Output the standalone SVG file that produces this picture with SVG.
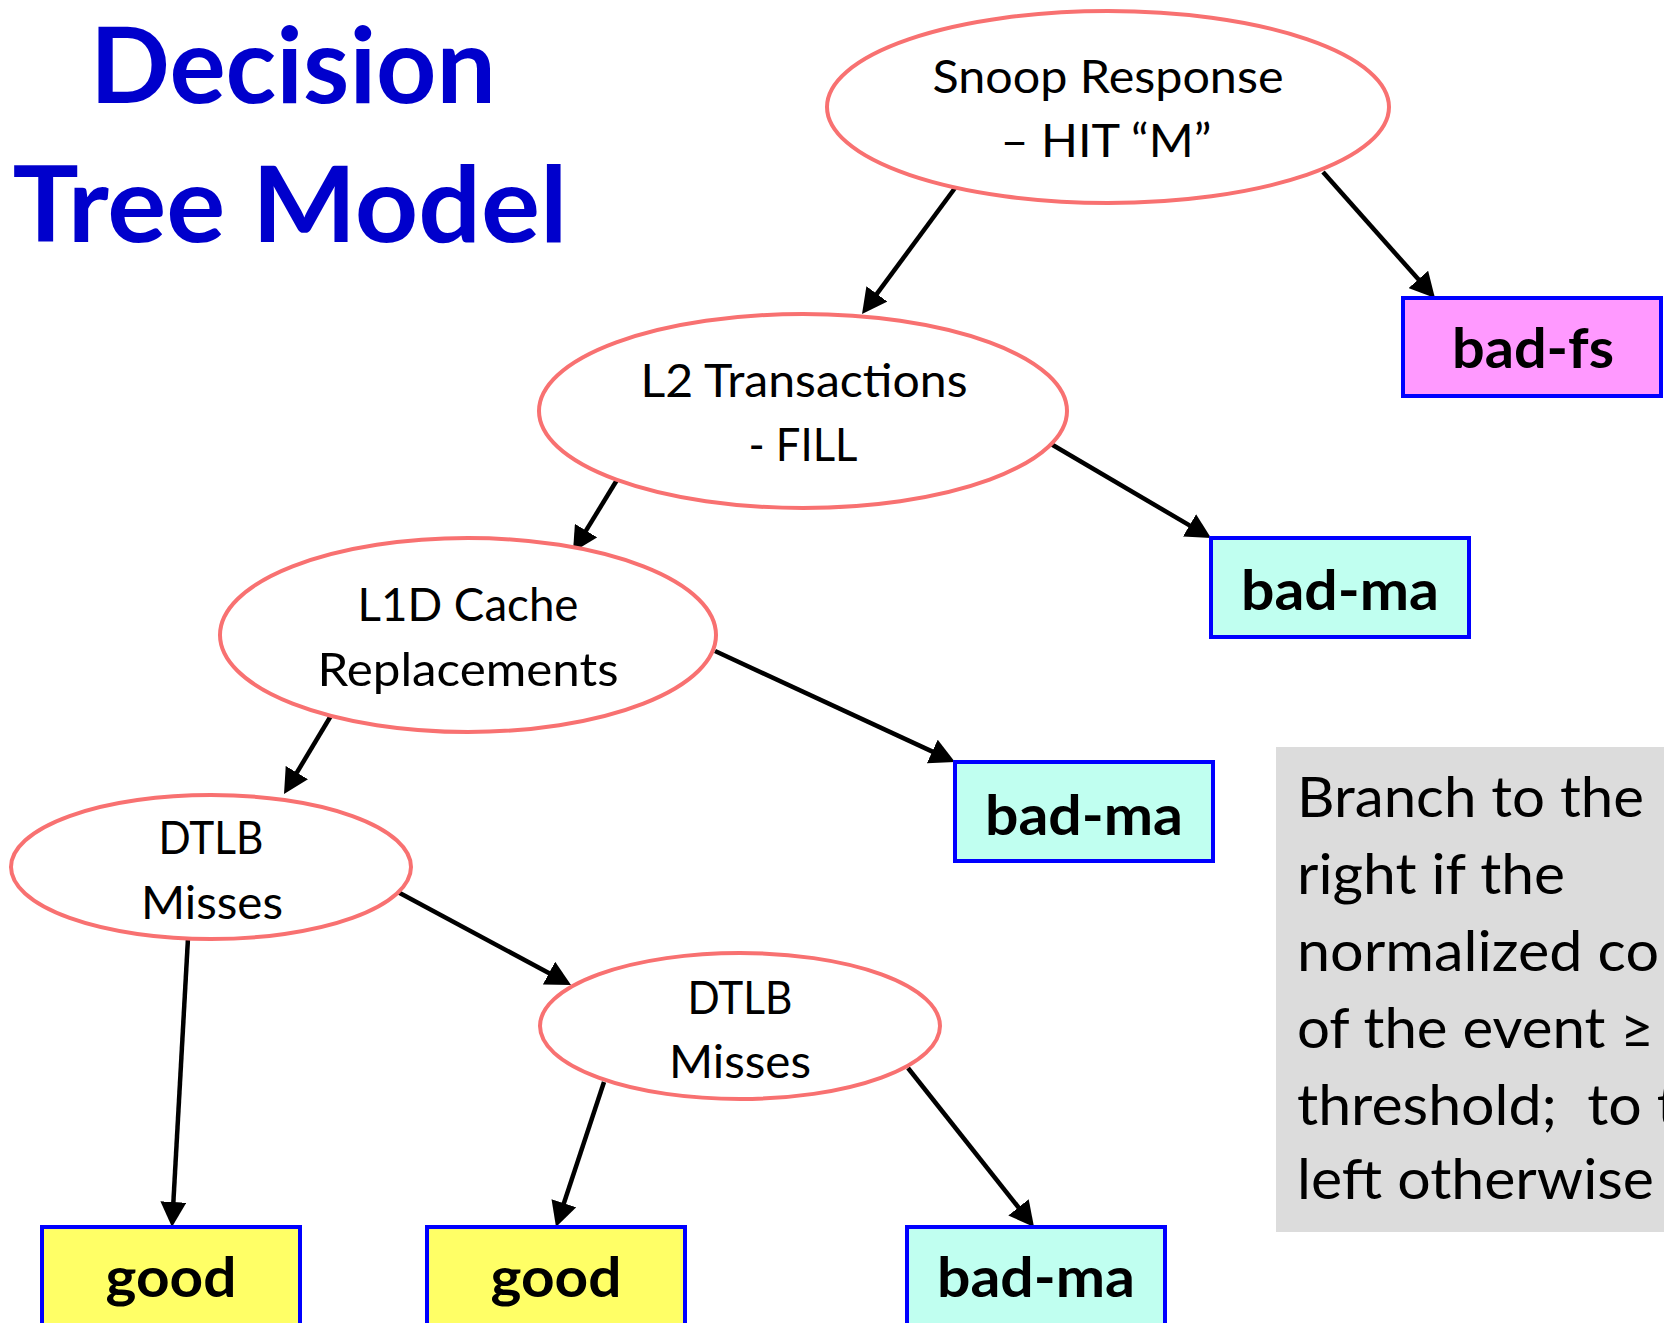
<svg xmlns="http://www.w3.org/2000/svg" width="1664" height="1323" viewBox="0 0 1664 1323">
  <style>
    .title { font-family: Lato, "Liberation Sans", sans-serif; font-weight: bold; font-size: 105px; fill: #0000CC; text-anchor: middle; }
    .cond ellipse { fill: #FFFFFF; stroke: #F87171; stroke-width: 4; }
    .cond text { font-family: Lato, "Liberation Sans", sans-serif; font-size: 47px; fill: #000000; text-anchor: middle; }
    .leaf rect { stroke: #0000FF; stroke-width: 4; }
    .leaf text { font-family: Lato, "Liberation Sans", sans-serif; font-weight: bold; font-size: 56px; fill: #000000; text-anchor: middle; }
    .fs rect { fill: #FF99FF; }
    .ma rect { fill: #C0FFF0; }
    .ok rect { fill: #FFFF66; }
    .note text { font-family: Lato, "Liberation Sans", sans-serif; font-size: 56px; fill: #000000; white-space: pre; }
    #edges line { stroke: #000000; stroke-width: 4.5; marker-end: url(#arrow); }
  </style>
  <defs>
    <marker id="arrow" markerUnits="userSpaceOnUse" markerWidth="26" markerHeight="26" refX="5" refY="13" orient="auto">
      <path d="M0,0 L25,13 L0,26 Z" fill="#000000"/>
    </marker>
  </defs>

  <rect x="0" y="0" width="1664" height="1323" fill="#FFFFFF"/>

  <!-- heading -->
  <g id="title">
    <text class="title" x="293" y="103" textLength="406" lengthAdjust="spacingAndGlyphs">Decision</text>
    <text class="title" x="290" y="242" textLength="555" lengthAdjust="spacingAndGlyphs">Tree Model</text>
  </g>

  <!-- legend box -->
  <g id="note" class="note">
    <rect x="1276" y="747" width="400" height="485" fill="#DCDCDC"/>
    <text x="1297" y="817" textLength="347" lengthAdjust="spacingAndGlyphs">Branch to the</text>
    <text x="1297" y="894" textLength="268" lengthAdjust="spacingAndGlyphs">right if the</text>
    <text x="1297" y="971" textLength="362" lengthAdjust="spacingAndGlyphs">normalized co</text>
    <text x="1297" y="1048" textLength="357" lengthAdjust="spacingAndGlyphs">of the event ≥</text>
    <text x="1297" y="1125" textLength="381" lengthAdjust="spacingAndGlyphs" xml:space="preserve">threshold;  to t</text>
    <text x="1297" y="1199" textLength="357" lengthAdjust="spacingAndGlyphs">left otherwise</text>
  </g>

  <!-- connectors -->
  <g id="edges">
    <line x1="955" y1="188" x2="873.9" y2="297.9"/>
    <line x1="1323" y1="172" x2="1421.7" y2="283.1"/>
    <line x1="620" y1="475" x2="583.4" y2="534.9"/>
    <line x1="1051" y1="444" x2="1193.8" y2="527.9"/>
    <line x1="332" y1="714" x2="294.3" y2="776.9"/>
    <line x1="715" y1="651" x2="936.8" y2="753.6"/>
    <line x1="188" y1="938" x2="173.1" y2="1207"/>
    <line x1="396" y1="891" x2="553.4" y2="975.5"/>
    <line x1="604" y1="1082" x2="562.3" y2="1208"/>
    <line x1="908" y1="1068" x2="1021.6" y2="1211.3"/>
  </g>

  <!-- decision nodes -->
  <g id="snoop" class="cond">
    <ellipse cx="1108" cy="107" rx="281" ry="96"/>
    <text x="1108" y="93" textLength="351" lengthAdjust="spacingAndGlyphs">Snoop Response</text>
    <text x="1106" y="157" textLength="211" lengthAdjust="spacingAndGlyphs">– HIT “M”</text>
  </g>
  <g id="l2" class="cond">
    <ellipse cx="803" cy="411" rx="264" ry="97"/>
    <text x="804" y="397" textLength="327" lengthAdjust="spacingAndGlyphs">L2 Transactions</text>
    <text x="803" y="461" textLength="109" lengthAdjust="spacingAndGlyphs">- FILL</text>
  </g>
  <g id="l1d" class="cond">
    <ellipse cx="468" cy="635" rx="248" ry="97"/>
    <text x="468" y="621" textLength="221" lengthAdjust="spacingAndGlyphs">L1D Cache</text>
    <text x="468" y="686" textLength="301" lengthAdjust="spacingAndGlyphs">Replacements</text>
  </g>
  <g id="dtlb1" class="cond">
    <ellipse cx="211" cy="867" rx="200" ry="72"/>
    <text x="211" y="854" textLength="105" lengthAdjust="spacingAndGlyphs">DTLB</text>
    <text x="212" y="919" textLength="142" lengthAdjust="spacingAndGlyphs">Misses</text>
  </g>
  <g id="dtlb2" class="cond">
    <ellipse cx="740" cy="1026" rx="200" ry="73"/>
    <text x="740" y="1014" textLength="105" lengthAdjust="spacingAndGlyphs">DTLB</text>
    <text x="740" y="1078" textLength="142" lengthAdjust="spacingAndGlyphs">Misses</text>
  </g>

  <!-- leaf nodes -->
  <g id="leaf-bad-fs" class="leaf fs">
    <rect x="1403" y="298" width="258" height="98"/>
    <text x="1533" y="368" textLength="162" lengthAdjust="spacingAndGlyphs">bad-fs</text>
  </g>
  <g id="leaf-bad-ma-1" class="leaf ma">
    <rect x="1211" y="538" width="258" height="99"/>
    <text x="1340" y="610" textLength="198" lengthAdjust="spacingAndGlyphs">bad-ma</text>
  </g>
  <g id="leaf-bad-ma-2" class="leaf ma">
    <rect x="955" y="762" width="258" height="99"/>
    <text x="1084" y="835" textLength="198" lengthAdjust="spacingAndGlyphs">bad-ma</text>
  </g>
  <g id="leaf-good-1" class="leaf ok">
    <rect x="42" y="1227" width="258" height="99"/>
    <text x="171" y="1297" textLength="131" lengthAdjust="spacingAndGlyphs">good</text>
  </g>
  <g id="leaf-good-2" class="leaf ok">
    <rect x="427" y="1227" width="258" height="99"/>
    <text x="556" y="1297" textLength="131" lengthAdjust="spacingAndGlyphs">good</text>
  </g>
  <g id="leaf-bad-ma-3" class="leaf ma">
    <rect x="907" y="1227" width="258" height="99"/>
    <text x="1036" y="1297" textLength="198" lengthAdjust="spacingAndGlyphs">bad-ma</text>
  </g>
</svg>
